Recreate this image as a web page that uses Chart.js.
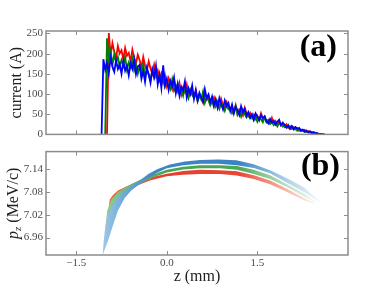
<!DOCTYPE html>
<html>
<head>
<meta charset="utf-8">
<script src="https://cdn.jsdelivr.net/npm/chart.js@4.4.1/dist/chart.umd.min.js"></script>
<style>
  body { margin: 0; background: #fff; }
  #wrap { position: relative; width: 374px; height: 291px; }
  canvas { position: absolute; left: 0; }
  #topChart { top: 0; }
  #bottomChart { top: 142px; }
</style>
</head>
<body>
<div id="wrap">
  <canvas id="topChart" width="374" height="144"></canvas>
  <canvas id="bottomChart" width="374" height="149"></canvas>
</div>
<script>
// sample positions along z (mm) for the current profiles
const zGrid = Array.from({ length: 124 }, (_, k) => Math.round((-1.08 + 0.03 * k) * 100) / 100);

// current (A)
const currentRed = [null, null, null, 0,
  251, 196, 226, 205, 188, 219, 200,
  208, 186, 214, 195, 202, 180, 210, 190, 176, 197,
  184, 165, 192, 170, 158, 181, 163, 150, 172, 145,
  158, 135, 150, 128, 146, 120, 139, 126, 112, 134,
  118, 106, 127, 98, 115, 104, 123, 94, 110, 100,
  95, 108, 86, 100, 91, 79, 104, 87, 96, 76,
  84, 92, 70, 81, 66, 88, 73, 64, 80, 69,
  60, 67, 55, 72, 50, 62, 57, 47, 66, 52,
  45, 53, 41, 49, 38, 46, 35, 52, 39, 44,
  31, 36, 28, 41, 26, 33, 25, 30, 22, 29,
  19, 25, 16, 20, 14, 18, 12, 15, 9, 12,
  9, 11, 6, 8, 4, 6, 3, 4, 2, 1,
  1, 0, 0];
const currentGreen = [null, null, 0,
  238, 185, 206, 172, 199, 178, 192, 168,
  184, 170, 192, 160, 178, 166, 187, 158, 172, 150,
  168, 152, 175, 142, 160, 148, 134, 158, 140, 152,
  138, 146, 125, 140, 118, 132, 122, 112, 136, 108,
  116, 124, 100, 112, 96, 119, 104, 90, 110, 98,
  90, 101, 82, 96, 86, 106, 78, 92, 84, 72,
  82, 68, 88, 74, 63, 79, 70, 58, 74, 62,
  64, 52, 60, 70, 49, 58, 44, 61, 50, 42,
  49, 40, 46, 35, 44, 31, 41, 37, 30, 42,
  30, 35, 26, 31, 23, 29, 20, 27, 25, 19,
  21, 17, 23, 13, 16, 12, 17, 9, 12, 8,
  10, 6, 7, 5, 6, 3, 4, 2, 2, 1,
  1, 0, 0];
const currentBlue = [0,
  186, 160, 178, 150, 191, 168, 155, 183, 162, 174,
  150, 181, 158, 170, 146, 176, 162, 185, 149, 168,
  172, 138, 157, 130, 165, 149, 128, 161, 142, 170,
  124, 148, 115, 171, 122, 138, 110, 133, 120, 141,
  102, 125, 96, 118, 108, 131, 92, 114, 100, 121,
  88, 110, 84, 103, 92, 81, 112, 90, 99, 80,
  94, 72, 85, 66, 90, 75, 62, 84, 70, 78,
  58, 74, 52, 68, 60, 48, 70, 55, 63, 46,
  55, 42, 50, 37, 52, 44, 36, 48, 40, 45,
  33, 27, 38, 29, 34, 24, 31, 36, 23, 28,
  24, 17, 22, 15, 21, 13, 18, 14, 16, 10,
  12, 7, 10, 5, 8, 4, 6, 3, 3, 1,
  1, 0, 0];

// p_z bands, panel (b): upper and lower edges
const redTopZ = [-0.974, -0.945, -0.891, -0.808, -0.697, -0.531, -0.28, 0.0, 0.27, 0.55, 0.88, 1.16, 1.44, 1.71, 1.99, 2.27, 2.45];
const redTopP = [7.023, 7.060, 7.072, 7.084, 7.092, 7.104, 7.118, 7.128, 7.135, 7.138, 7.137, 7.134, 7.124, 7.110, 7.088, 7.064, 7.050];
const redLowZ = [-0.974, -0.891, -0.808, -0.697, -0.531, -0.28, 0.0, 0.27, 0.55, 0.88, 1.16, 1.44, 1.71, 1.99, 2.27, 2.45];
const redLowP = [7.023, 7.048, 7.064, 7.076, 7.094, 7.110, 7.121, 7.125, 7.127, 7.127, 7.123, 7.114, 7.100, 7.080, 7.058, 7.048];

const greenTopZ = [-1.018, -0.985, -0.919, -0.808, -0.642, -0.422, -0.2, 0.0, 0.27, 0.55, 0.88, 1.16, 1.44, 1.71, 1.99, 2.27, 2.47];
const greenTopP = [6.987, 7.031, 7.060, 7.080, 7.096, 7.113, 7.127, 7.138, 7.146, 7.150, 7.150, 7.148, 7.138, 7.124, 7.100, 7.076, 7.054];
const greenLowZ = [-1.018, -0.945, -0.863, -0.753, -0.588, -0.4, -0.2, 0.0, 0.27, 0.55, 0.88, 1.16, 1.44, 1.71, 1.99, 2.27, 2.47];
const greenLowP = [6.987, 7.011, 7.040, 7.064, 7.088, 7.105, 7.120, 7.131, 7.139, 7.142, 7.142, 7.138, 7.127, 7.114, 7.093, 7.068, 7.052];

const blueTopZ = [-1.062, -1.045, -1.025, -1.0, -0.96, -0.891, -0.808, -0.697, -0.588, -0.422, -0.3, -0.15, 0.05, 0.3, 0.55, 0.85, 1.15, 1.44, 1.71, 1.99, 2.27, 2.54];
const blueTopP = [6.914, 6.950, 6.980, 7.005, 7.028, 7.048, 7.068, 7.084, 7.096, 7.113, 7.128, 7.140, 7.152, 7.160, 7.164, 7.165, 7.163, 7.153, 7.137, 7.116, 7.092, 7.054];
const blueLowZ = [-1.062, -0.974, -0.891, -0.808, -0.697, -0.588, -0.422, -0.174, 0.0, 0.273, 0.55, 0.85, 1.16, 1.44, 1.71, 1.99, 2.27, 2.54];
const blueLowP = [6.914, 6.951, 6.992, 7.031, 7.064, 7.084, 7.104, 7.129, 7.142, 7.150, 7.154, 7.154, 7.150, 7.143, 7.129, 7.104, 7.080, 7.052];

// axis ticks
const zTicks = [-1.5, 0, 1.5];
const zTickLabels = ["−1.5", "0.0", "1.5"];
const currentTicks = [0, 50, 100, 150, 200, 250];
const pzTicks = [6.96, 7.02, 7.08, 7.14];
const pzTickLabels = ["6.96", "7.02", "7.08", "7.14"];

// band colours along z (fade at both ends)
const redStops = [[-0.98, "rgb(242,105,72)"], [-0.5, "rgb(236,78,56)"], [0.0, "rgb(230,62,46)"], [1.2, "rgb(232,70,54)"], [1.8, "rgba(240,125,105,0.75)"], [2.3, "rgba(248,185,170,0.5)"], [2.5, "rgba(252,222,214,0.3)"]];
const greenStops = [[-1.02, "rgb(145,206,138)"], [-0.5, "rgb(98,182,102)"], [0.0, "rgb(68,166,82)"], [1.2, "rgb(72,168,86)"], [1.8, "rgba(132,200,136,0.75)"], [2.3, "rgba(188,226,188,0.5)"], [2.5, "rgba(225,242,225,0.3)"]];
const blueStops = [[-1.07, "rgb(160,200,230)"], [-0.7, "rgb(110,168,214)"], [-0.2, "rgb(64,134,196)"], [1.2, "rgb(58,130,194)"], [1.8, "rgba(112,172,216,0.75)"], [2.3, "rgba(172,206,233,0.5)"], [2.55, "rgba(215,232,245,0.3)"]];

Chart.defaults.font.family = '"Liberation Serif", "DejaVu Serif", serif';

function toPoints(zs, vals) {
  return zs.map((z, i) => ({ x: z, y: vals[i] })).filter(p => p.y !== null);
}

function bandShape(topZ, topP, lowZ, lowP) {
  const upper = toPoints(topZ, topP);
  const lower = toPoints(lowZ, lowP).reverse();
  return upper.concat(lower);
}

function bandFill(stops) {
  return (c) => {
    const chart = c.chart;
    const xs = chart.scales.x;
    if (!chart.chartArea || !xs) return stops[2][1];
    const z0 = stops[0][0], z1 = stops[stops.length - 1][0];
    const g = chart.ctx.createLinearGradient(xs.getPixelForValue(z0), 0, xs.getPixelForValue(z1), 0);
    stops.forEach(([z, col]) => g.addColorStop((z - z0) / (z1 - z0), col));
    return g;
  };
}

// box around the plot, inward ticks and the panel letter
const framePlugin = {
  id: "frame",
  afterDraw(chart, args, opts) {
    const { ctx, chartArea: a, scales } = chart;
    ctx.save();
    ctx.strokeStyle = "#8c8c8c";
    ctx.lineWidth = 1;
    ctx.beginPath();
    opts.xTicks.forEach(v => {
      const px = Math.round(scales.x.getPixelForValue(v)) + 0.5;
      ctx.moveTo(px, a.top); ctx.lineTo(px, a.top + 4);
      ctx.moveTo(px, a.bottom); ctx.lineTo(px, a.bottom - 4);
    });
    opts.yTicks.forEach(v => {
      const py = Math.round(scales.y.getPixelForValue(v)) + 0.5;
      ctx.moveTo(a.left, py); ctx.lineTo(a.left + 4, py);
      ctx.moveTo(a.right, py); ctx.lineTo(a.right - 4, py);
    });
    ctx.stroke();
    ctx.lineWidth = 1.5;
    ctx.strokeRect(a.left, a.top, a.right - a.left, a.bottom - a.top);
    ctx.fillStyle = "#000";
    ctx.font = 'bold 32px "Liberation Serif"';
    ctx.textAlign = "right";
    ctx.textBaseline = "alphabetic";
    ctx.fillText(opts.label, a.right - opts.dx, a.top + opts.dy);
    ctx.restore();
  }
};

// y title of panel (b) with italic p and subscript z
const pzTitlePlugin = {
  id: "pzTitle",
  afterDraw(chart) {
    const { ctx, chartArea: a } = chart;
    const parts = [
      ["p", 'italic 16px "Liberation Serif"', 0],
      ["z", 'italic 11px "Liberation Serif"', 4],
      [" (MeV/c)", '16px "Liberation Serif"', 0]
    ];
    ctx.save();
    ctx.translate(14, (a.top + a.bottom) / 2);
    ctx.rotate(-Math.PI / 2);
    ctx.fillStyle = "#222";
    ctx.textBaseline = "middle";
    let total = 0;
    parts.forEach(([t, f]) => { ctx.font = f; total += ctx.measureText(t).width; });
    let x = -total / 2;
    parts.forEach(([t, f, dy]) => {
      ctx.font = f;
      ctx.fillText(t, x, dy);
      x += ctx.measureText(t).width;
    });
    ctx.restore();
  }
};

const tickFont = { size: 11 };
const tickColor = "#4a4a4a";

new Chart(document.getElementById("topChart"), {
  type: "line",
  data: {
    datasets: [
      { label: "red", data: toPoints(zGrid, currentRed), borderColor: "#ff0000", order: 3 },
      { label: "green", data: toPoints(zGrid, currentGreen), borderColor: "#008000", order: 2 },
      { label: "blue", data: toPoints(zGrid, currentBlue), borderColor: "#0000ff", order: 1 }
    ]
  },
  options: {
    responsive: false,
    animation: false,
    layout: { padding: { top: 31, right: 26, bottom: 1, left: 0 } },
    elements: { point: { radius: 0 }, line: { borderWidth: 1.8, tension: 0, fill: false } },
    plugins: {
      legend: { display: false },
      tooltip: { enabled: false },
      frame: { xTicks: zTicks, yTicks: currentTicks, label: "(a)", dx: 11, dy: 25 }
    },
    scales: {
      x: { type: "linear", min: -2, max: 3, display: false },
      y: {
        min: 0,
        max: 256,
        afterFit: s => { s.width = 46; },
        afterBuildTicks: s => { s.ticks = currentTicks.map(v => ({ value: v })); },
        grid: { display: false, drawTicks: false },
        border: { display: false },
        ticks: { padding: 3, color: tickColor, font: tickFont },
        title: { display: true, text: "current (A)", color: "#222", font: { size: 16 }, padding: { top: 7, bottom: 0 } }
      }
    }
  },
  plugins: [framePlugin]
});

new Chart(document.getElementById("bottomChart"), {
  type: "line",
  data: {
    datasets: [
      { label: "red", data: bandShape(redTopZ, redTopP, redLowZ, redLowP), backgroundColor: bandFill(redStops), order: 3 },
      { label: "green", data: bandShape(greenTopZ, greenTopP, greenLowZ, greenLowP), backgroundColor: bandFill(greenStops), order: 2 },
      { label: "blue", data: bandShape(blueTopZ, blueTopP, blueLowZ, blueLowP), backgroundColor: bandFill(blueStops), order: 1 }
    ]
  },
  options: {
    responsive: false,
    animation: false,
    layout: { padding: { top: 1, right: 26, bottom: 0, left: 0 } },
    elements: { point: { radius: 0 }, line: { borderWidth: 0, tension: 0, fill: "shape" } },
    plugins: {
      legend: { display: false },
      tooltip: { enabled: false },
      frame: { xTicks: zTicks, yTicks: pzTicks, label: "(b)", dx: 8, dy: 23 }
    },
    scales: {
      x: {
        type: "linear",
        min: -2,
        max: 3,
        afterFit: s => { s.height = 36; },
        afterBuildTicks: s => { s.ticks = zTicks.map(v => ({ value: v })); },
        grid: { display: false, drawTicks: false },
        border: { display: false },
        ticks: { padding: 2, color: tickColor, font: tickFont, maxRotation: 0, autoSkip: false, callback: (v, i) => zTickLabels[i] },
        title: { display: true, text: "z (mm)", color: "#222", font: { size: 16 }, padding: { top: 0, bottom: 5 } }
      },
      y: {
        min: 6.914,
        max: 7.186,
        afterFit: s => { s.width = 46; },
        afterBuildTicks: s => { s.ticks = pzTicks.map(v => ({ value: v })); },
        grid: { display: false, drawTicks: false },
        border: { display: false },
        ticks: { padding: 3, color: tickColor, font: tickFont, callback: (v, i) => pzTickLabels[i] }
      }
    }
  },
  plugins: [framePlugin, pzTitlePlugin]
});
</script>
</body>
</html>
